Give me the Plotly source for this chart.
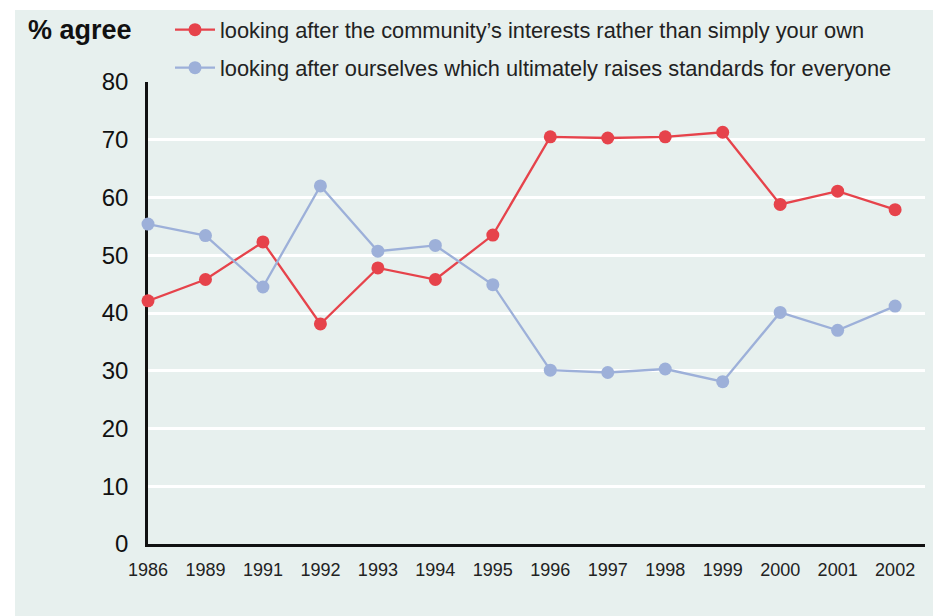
import plotly.graph_objects as go

years = ["1986", "1989", "1991", "1992", "1993", "1994", "1995", "1996",
         "1997", "1998", "1999", "2000", "2001", "2002"]
community = [42.1, 45.8, 52.3, 38.1, 47.8, 45.8, 53.5, 70.5, 70.3, 70.5, 71.3, 58.8, 61.1, 57.9]
ourselves = [55.4, 53.4, 44.5, 62.0, 50.7, 51.7, 44.9, 30.1, 29.7, 30.3, 28.1, 40.1, 37.0, 41.2]
series_names = ["looking after the community\u2019s interests rather than simply your own",
                "looking after ourselves which ultimately raises standards for everyone"]
y_ticks = [0, 10, 20, 30, 40, 50, 60, 70, 80]

RED = "#e6434b"
BLUE = "#9db0d9"
BG = "#e7f0ee"
FONT = "Liberation Sans, Arial, sans-serif"

W, H = 933, 616
ML, MR, MT, MB = 148, 8, 82, 72
pw = W - ML - MR
ph = H - MT - MB

fig = go.Figure()
fig.add_trace(go.Scatter(x=years, y=community, name=series_names[0], mode="lines+markers",
                         line=dict(color=RED, width=2.3), marker=dict(color=RED, size=13),
                         legend="legend", cliponaxis=False))
fig.add_trace(go.Scatter(x=years, y=ourselves, name=series_names[1], mode="lines+markers",
                         line=dict(color=BLUE, width=2.3), marker=dict(color=BLUE, size=13),
                         legend="legend2", cliponaxis=False))

def px_x(p):
    return (p - ML) / pw

def px_y(p):
    return (H - MB - p) / ph

fig.add_shape(type="rect", xref="paper", yref="paper", layer="below",
              x0=px_x(15), x1=px_x(940), y0=px_y(620), y1=px_y(10),
              fillcolor=BG, line=dict(width=0))

fig.add_annotation(text="<b>% agree</b>", xref="paper", yref="paper",
                   x=px_x(26), y=px_y(30), xanchor="left", yanchor="middle",
                   showarrow=False, font=dict(family=FONT, size=27, color="#111"))

legend_common = dict(xanchor="left", yanchor="middle", bgcolor="rgba(0,0,0,0)",
                     itemwidth=40, font=dict(size=21.8, family=FONT, color="#222"))

fig.update_layout(
    width=W, height=H,
    margin=dict(l=ML, r=MR, t=MT, b=MB),
    paper_bgcolor="white",
    plot_bgcolor="rgba(0,0,0,0)",
    showlegend=True,
    font=dict(family=FONT, color="#111"),
    legend=dict(x=px_x(170), y=px_y(30), **legend_common),
    legend2=dict(x=px_x(170), y=px_y(68), **legend_common),
    xaxis=dict(type="category", range=[0, 13.52], showgrid=False, layer="below traces",
               showline=True, linecolor="#111", linewidth=3, ticks="",
               tickfont=dict(size=18, family=FONT, color="#222"), ticklabelstandoff=7),
    yaxis=dict(range=[0, 80], tickvals=y_ticks, showgrid=True, gridcolor="white",
               gridwidth=2.5, zeroline=False, showline=True, linecolor="#111",
               linewidth=2.5, ticks="", layer="below traces",
               tickfont=dict(size=24, family=FONT, color="#111"),
               ticklabelstandoff=12),
)

fig.write_html("out.html", config={"displayModeBar": False},
               post_script="document.body.style.margin='0px';document.body.style.overflow='hidden';")
